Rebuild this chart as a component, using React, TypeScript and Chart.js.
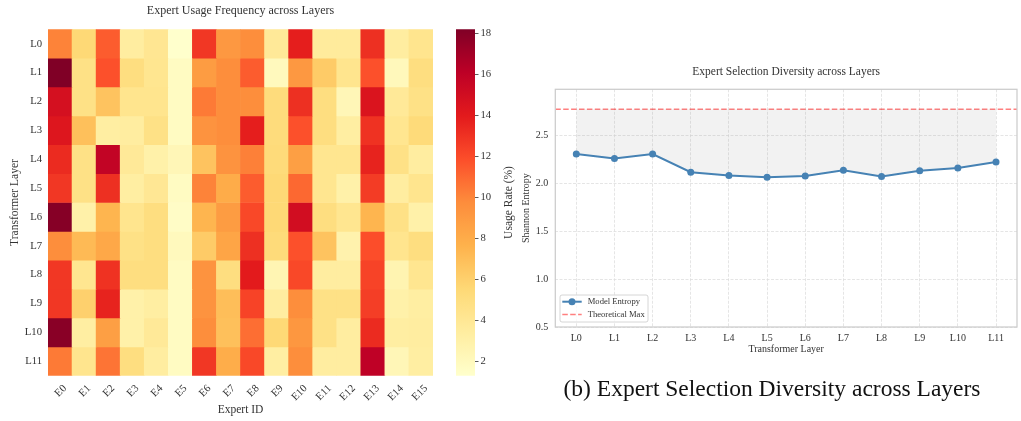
import React, { useEffect, useRef } from 'react';
import { Chart, registerables } from 'chart.js';

Chart.register(...registerables);

// ---------- data ----------
const layers = ['L0', 'L1', 'L2', 'L3', 'L4', 'L5', 'L6', 'L7', 'L8', 'L9', 'L10', 'L11'];
const experts = ['E0', 'E1', 'E2', 'E3', 'E4', 'E5', 'E6', 'E7', 'E8', 'E9', 'E10', 'E11', 'E12', 'E13', 'E14', 'E15'];

// usage rate (%) per layer (rows) and expert (columns)
const usage: number[][] = [
  [10.1, 5.5, 11.4, 3.4, 4.1, 1.3, 12.8, 9.1, 9.7, 3.8, 13.8, 3.6, 3.6, 13.1, 3.4, 4.3],
  [18.2, 4.7, 11.8, 5.0, 4.2, 1.8, 8.9, 9.7, 11.4, 2.0, 9.1, 6.3, 4.3, 11.8, 2.1, 5.0],
  [14.8, 4.7, 6.7, 4.3, 4.3, 1.8, 10.4, 9.7, 9.7, 5.2, 13.1, 5.0, 2.3, 14.5, 3.8, 4.7],
  [14.3, 6.9, 3.3, 3.4, 4.7, 1.8, 9.4, 9.7, 13.8, 5.2, 11.8, 5.0, 3.3, 13.0, 4.2, 5.3],
  [13.3, 4.7, 15.8, 3.8, 3.0, 2.3, 6.7, 9.4, 10.2, 5.3, 8.7, 4.2, 4.2, 13.6, 4.7, 3.4],
  [12.8, 4.7, 13.1, 3.3, 4.0, 1.8, 10.1, 8.0, 11.4, 5.5, 11.0, 4.2, 3.0, 12.6, 3.4, 4.3],
  [18.0, 3.0, 7.5, 4.3, 5.0, 1.6, 7.5, 8.9, 12.1, 5.5, 15.0, 5.0, 4.2, 7.5, 4.7, 3.0],
  [9.7, 7.2, 8.2, 4.7, 5.0, 2.0, 6.3, 8.4, 13.1, 5.3, 11.8, 6.7, 2.8, 11.9, 4.3, 5.0],
  [12.8, 4.2, 13.0, 5.0, 5.0, 1.8, 9.4, 5.0, 14.0, 2.5, 12.1, 3.4, 3.4, 12.3, 2.6, 4.2],
  [12.8, 6.0, 13.6, 3.0, 3.3, 1.8, 9.4, 7.0, 12.3, 3.4, 9.7, 4.7, 4.7, 12.5, 3.0, 3.3],
  [17.9, 3.3, 8.7, 3.0, 3.8, 1.8, 9.7, 6.9, 10.8, 5.5, 9.2, 4.7, 3.4, 13.3, 3.3, 3.4],
  [10.4, 4.3, 10.6, 5.0, 3.4, 1.8, 12.8, 7.9, 12.1, 3.3, 9.7, 3.4, 3.4, 16.0, 2.3, 3.3],
];

const colorbarTicks = [2, 4, 6, 8, 10, 12, 14, 16, 18];

const entropy = [2.305, 2.257, 2.305, 2.115, 2.08, 2.063, 2.076, 2.135, 2.07, 2.13, 2.16, 2.222];
const maxEntropy = 2.7726;
const entropyTicks = [0.5, 1.0, 1.5, 2.0, 2.5];

// ---------- style helpers ----------
const FONT = "'Liberation Serif', 'Times New Roman', serif";
const TEXT = '#333333';
const YLORRD = [
  [255, 255, 204], [255, 237, 160], [254, 217, 118], [254, 178, 76], [253, 141, 60],
  [252, 78, 42], [227, 26, 28], [189, 0, 38], [128, 0, 38],
];
function cmap(t: number): string {
  const c = Math.max(0, Math.min(1, t)) * (YLORRD.length - 1);
  const i = Math.min(Math.floor(c), YLORRD.length - 2);
  const f = c - i;
  const a = YLORRD[i];
  const b = YLORRD[i + 1];
  const m = (k: number) => Math.round(a[k] + (b[k] - a[k]) * f);
  return `rgb(${m(0)},${m(1)},${m(2)})`;
}

export default function App() {
  const heatRef = useRef<HTMLCanvasElement>(null);
  const cbRef = useRef<HTMLCanvasElement>(null);
  const lineRef = useRef<HTMLCanvasElement>(null);

  useEffect(() => {
    Chart.defaults.font.family = FONT;
    Chart.defaults.color = TEXT;

    const flat = usage.flat();
    const vmin = Math.min(...flat);
    const vmax = Math.max(...flat);

    // ---------- heatmap ----------
    const heatDatasets = layers.map((name, i) => ({
      label: name,
      data: experts.map(() => [i, i + 1]),
      backgroundColor: usage[i].map((v) => cmap((v - vmin) / (vmax - vmin))),
      borderWidth: 0,
      barPercentage: 1,
      categoryPercentage: 1,
      grouped: false,
    }));

    const heat = new Chart(heatRef.current!, {
      type: 'bar',
      data: { labels: experts, datasets: heatDatasets as any },
      options: {
        responsive: false,
        animation: false,
        events: [],
        layout: { padding: { left: 0, right: 12, top: 0, bottom: 0 } },
        plugins: {
          legend: { display: false },
          tooltip: { enabled: false },
          title: {
            display: true,
            text: 'Expert Usage Frequency across Layers',
            fullSize: false,
            color: TEXT,
            font: { size: 12, weight: 'normal' },
            padding: { top: 3.8, bottom: 11.1 },
          },
        },
        scales: {
          x: {
            type: 'category',
            grid: { display: false, drawTicks: false },
            border: { display: false },
            ticks: { minRotation: 45, maxRotation: 45, autoSkip: false, labelOffset: 5, padding: 6.6, font: { size: 10.7 } },
            title: { display: true, text: 'Expert ID', font: { size: 11.5 }, padding: { top: 0, bottom: 4.1 } },
            afterFit: (s: any) => { s.height = 45.3; },
          },
          y: {
            type: 'linear',
            min: 0,
            max: 12,
            reverse: true,
            grid: { display: false, drawTicks: false },
            border: { display: false },
            afterBuildTicks: (s: any) => { s.ticks = layers.map((_, i) => ({ value: i + 0.5 })); },
            ticks: { callback: (v: any) => layers[Math.round(Number(v) - 0.5)], padding: 6, font: { size: 10.7 } },
            title: { display: true, text: 'Transformer Layer', font: { size: 11.5 }, padding: { top: 7.6, bottom: 0 } },
            afterFit: (s: any) => { s.width = 48; },
          },
        },
      } as any,
    });

    // ---------- colorbar ----------
    const cbLabel = {
      id: 'cbLabel',
      afterDraw(chart: any) {
        const { ctx, chartArea } = chart;
        ctx.save();
        ctx.translate(chartArea.right + 33.5, (chartArea.top + chartArea.bottom) / 2);
        ctx.rotate(-Math.PI / 2);
        ctx.textAlign = 'center';
        ctx.textBaseline = 'middle';
        ctx.font = `11.5px ${FONT}`;
        ctx.fillStyle = TEXT;
        ctx.fillText('Usage Rate (%)', 0, 0);
        ctx.restore();
      },
    };

    const cb = new Chart(cbRef.current!, {
      type: 'bar',
      data: {
        labels: [''],
        datasets: [{
          data: [[vmin, vmax]],
          borderWidth: 0,
          barPercentage: 1,
          categoryPercentage: 1,
          backgroundColor: (c: any) => {
            const area = c.chart.chartArea;
            if (!area) return cmap(0.5);
            const g = c.chart.ctx.createLinearGradient(0, area.bottom, 0, area.top);
            for (let k = 0; k <= 32; k++) g.addColorStop(k / 32, cmap(k / 32));
            return g;
          },
        }] as any,
      },
      options: {
        responsive: false,
        animation: false,
        events: [],
        layout: { padding: { left: 11, top: 29.3, bottom: 45.3, right: 0 } },
        plugins: { legend: { display: false }, tooltip: { enabled: false } },
        scales: {
          x: { display: false },
          y: {
            position: 'right',
            min: vmin,
            max: vmax,
            afterBuildTicks: (s: any) => { s.ticks = colorbarTicks.map((v) => ({ value: v })); },
            grid: { drawOnChartArea: false, drawTicks: true, tickLength: 3.5, tickColor: TEXT, tickWidth: 0.8 },
            border: { display: false },
            ticks: { padding: 2, font: { size: 10.7 } },
            afterFit: (s: any) => { s.width = 46; },
          },
        },
      } as any,
      plugins: [cbLabel],
    });

    // ---------- line chart ----------
    const frame = {
      id: 'frame',
      afterDatasetsDraw(chart: any) {
        const { ctx, chartArea: a } = chart;
        ctx.save();
        ctx.strokeStyle = '#cccccc';
        ctx.lineWidth = 1.25;
        ctx.strokeRect(a.left, a.top, a.right - a.left, a.bottom - a.top);
        ctx.restore();
      },
    };
    const boxLegend = {
      id: 'boxLegend',
      afterDraw(chart: any) {
        const { ctx, chartArea: a } = chart;
        const w = 88, h = 27;
        const x = a.left + 4.7;
        const y = a.bottom - 5 - h;
        ctx.save();
        ctx.fillStyle = 'rgba(255,255,255,0.8)';
        ctx.strokeStyle = '#cccccc';
        ctx.lineWidth = 0.8;
        ctx.beginPath();
        ctx.roundRect(x, y, w, h, 2);
        ctx.fill();
        ctx.stroke();
        ctx.font = `8.6px ${FONT}`;
        ctx.textBaseline = 'middle';
        ctx.textAlign = 'left';
        chart.data.datasets.forEach((ds: any, k: number) => {
          const ly = y + 6.7 + k * 12.7;
          ctx.strokeStyle = ds.borderColor;
          ctx.lineWidth = ds.borderWidth;
          ctx.setLineDash(ds.borderDash || []);
          ctx.beginPath();
          ctx.moveTo(x + 2.3, ly);
          ctx.lineTo(x + 21.7, ly);
          ctx.stroke();
          ctx.setLineDash([]);
          if (ds.pointRadius > 0) {
            ctx.fillStyle = ds.pointBackgroundColor;
            ctx.beginPath();
            ctx.arc(x + 12, ly, ds.pointRadius, 0, Math.PI * 2);
            ctx.fill();
          }
          ctx.fillStyle = TEXT;
          ctx.fillText(ds.label, x + 27.7, ly);
        });
        ctx.restore();
      },
    };

    const xMin = -0.55;
    const xMax = layers.length - 1 + 0.55;
    const gridColor = '#dedede';

    const line = new Chart(lineRef.current!, {
      type: 'line',
      data: {
        datasets: [
          {
            label: 'Model Entropy',
            data: entropy.map((y, i) => ({ x: i, y })),
            borderColor: '#4682b4',
            backgroundColor: 'rgba(128,128,128,0.1)',
            fill: { value: maxEntropy },
            borderWidth: 2,
            pointRadius: 3.5,
            pointBackgroundColor: '#4682b4',
            pointBorderWidth: 0,
            tension: 0,
          },
          {
            label: 'Theoretical Max',
            data: [{ x: xMin, y: maxEntropy }, { x: xMax, y: maxEntropy }],
            borderColor: 'rgba(255,0,0,0.5)',
            borderDash: [5.5, 2.4],
            borderWidth: 1.5,
            pointRadius: 0,
            fill: false,
          },
        ] as any,
      },
      options: {
        responsive: false,
        animation: false,
        events: [],
        layout: { padding: { left: 0, right: 1.5, top: 0, bottom: 0 } },
        plugins: {
          legend: { display: false },
          tooltip: { enabled: false },
          title: {
            display: true,
            text: 'Expert Selection Diversity across Layers',
            fullSize: false,
            color: TEXT,
            font: { size: 11.5, weight: 'normal' },
            padding: { top: 64.8, bottom: 10.7 },
          },
        },
        scales: {
          x: {
            type: 'linear',
            min: xMin,
            max: xMax,
            afterBuildTicks: (s: any) => { s.ticks = layers.map((_, i) => ({ value: i })); },
            ticks: { callback: (v: any) => layers[Number(v)], autoSkip: false, maxRotation: 0, padding: 5, font: { size: 10 } },
            grid: { color: gridColor, lineWidth: 0.8, drawTicks: false },
            border: { display: false, dash: [3, 1.5] },
            title: { display: true, text: 'Transformer Layer', font: { size: 10 }, padding: { top: 0, bottom: 5 } },
            afterFit: (s: any) => { s.height = 33; },
          },
          y: {
            min: 0.5,
            max: 2.98,
            afterBuildTicks: (s: any) => { s.ticks = entropyTicks.map((v) => ({ value: v })); },
            ticks: { callback: (v: any) => Number(v).toFixed(1), padding: 7, font: { size: 10 } },
            grid: { color: gridColor, lineWidth: 0.8, drawTicks: false },
            border: { display: false, dash: [3, 1.5] },
            title: { display: true, text: 'Shannon Entropy', font: { size: 10 }, padding: { top: 15.7, bottom: 0 } },
            afterFit: (s: any) => { s.width = 50.3; },
          },
        },
      } as any,
      plugins: [frame, boxLegend],
    });

    return () => {
      heat.destroy();
      cb.destroy();
      line.destroy();
    };
  }, []);

  return (
    <div style={{ position: 'fixed', left: 0, top: 0, width: 1021, height: 421, background: '#ffffff', overflow: 'hidden' }}>
      <canvas ref={heatRef} width={445} height={421} style={{ position: 'absolute', left: 0, top: 0 }} />
      <canvas ref={cbRef} width={76} height={421} style={{ position: 'absolute', left: 445, top: 0 }} />
      <canvas ref={lineRef} width={516} height={360} style={{ position: 'absolute', left: 505, top: 0 }} />
      <div
        style={{
          position: 'absolute', left: 522, width: 500, top: 376, textAlign: 'center',
          fontFamily: FONT, fontSize: 23.5, lineHeight: '24px', color: '#111111', whiteSpace: 'nowrap',
        }}
      >
        (b) Expert Selection Diversity across Layers
      </div>
    </div>
  );
}
